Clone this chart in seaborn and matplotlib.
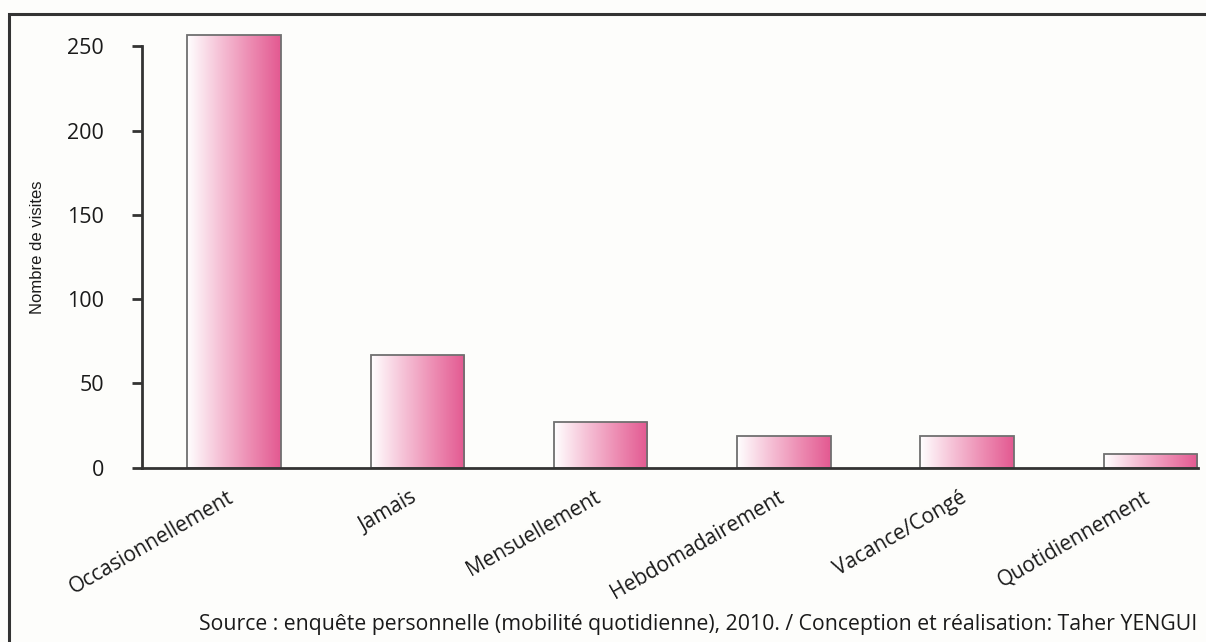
"""
Fréquence des visites - diagramme en barres (dégradé rose)
"""

import numpy as np
import matplotlib
matplotlib.use('Agg')
import matplotlib.pyplot as plt
from matplotlib.colors import LinearSegmentedColormap
from matplotlib.patches import Rectangle
from matplotlib.transforms import ScaledTranslation
import seaborn as sns

sns.set_style("white")
plt.rcParams['font.family'] = ['Open Sans', 'DejaVu Sans']

# données
categories = ['Occasionnellement', 'Jamais', 'Mensuellement',
              'Hebdomadairement', 'Vacance/Congé', 'Quotidiennement']
visites = [257, 67, 27, 19, 19, 8]
y_ticks = [0, 50, 100, 150, 200, 250]

source_txt = ("Source : enquête personnelle (mobilité quotidienne), 2010. / "
              "Conception et réalisation: Taher YENGUI")

BG = '#fdfdfb'
pink = LinearSegmentedColormap.from_list(
    'pink_grad', ['#ffffff', '#f6c4d8', '#ed8db3', '#e35991'])

fig = plt.figure(figsize=(12.06, 6.42), dpi=100, facecolor=BG)
ax = fig.add_axes([0.1177, 0.2715, 0.8757, 0.6824])
ax.set_facecolor(BG)

sns.barplot(x=categories, y=visites, width=0.51, color='white',
            edgecolor='#707070', linewidth=1.3, ax=ax)

# dégradé horizontal dans chaque barre
grad = np.linspace(0, 1, 256).reshape(1, -1)
for bar in ax.patches:
    x0, y0 = bar.get_x(), bar.get_y()
    w, h = bar.get_width(), bar.get_height()
    im = ax.imshow(grad, extent=[x0, x0 + w, y0, y0 + h], aspect='auto',
                   cmap=pink, zorder=bar.get_zorder() - 0.1, interpolation='bicubic')
    im.set_clip_path(bar)
    bar.set_facecolor('none')

ax.set_xlim(-0.502, 5.26)
ax.set_ylim(0, 260)
ax.set_yticks(y_ticks)
ax.spines['left'].set_bounds(0, 250)
for s in ['top', 'right']:
    ax.spines[s].set_visible(False)
for s in ['left', 'bottom']:
    ax.spines[s].set_linewidth(2)
    ax.spines[s].set_color('#333333')

ax.tick_params(axis='y', left=True, direction='out', length=7.5, width=2,
               color='#333333', labelsize=15.5, pad=20, labelcolor='#1a1a1a')
ax.tick_params(axis='x', bottom=False, length=0, pad=14)
ax.set_xticks(range(len(categories)))
ax.set_xticklabels(categories, rotation=30, ha='right', rotation_mode='anchor',
                   fontsize=15, color='#1a1a1a')
shift = ScaledTranslation(-7 / 100, 0, fig.dpi_scale_trans)
for lbl in ax.get_xticklabels():
    lbl.set_transform(lbl.get_transform() + shift)
ax.set_xlabel('')
ax.set_ylabel('')

fig.text(38 / 1206, 1 - 247 / 642, 'Nombre de visites', rotation=90,
         ha='center', va='center', family=['Liberation Sans'], fontsize=12,
         color='#1a1a1a')

fig.text(0.993, 0.028, source_txt, ha='right', va='center', fontsize=15.3,
         color='#1a1a1a')

# cadre
fig.patches.append(Rectangle((9 / 1206, -0.5), 2.0, 1.5 - 14 / 642,
                             transform=fig.transFigure, fill=False,
                             edgecolor='#333333', linewidth=2.2))

plt.savefig('out.png', dpi=100, facecolor=BG)
plt.close()
